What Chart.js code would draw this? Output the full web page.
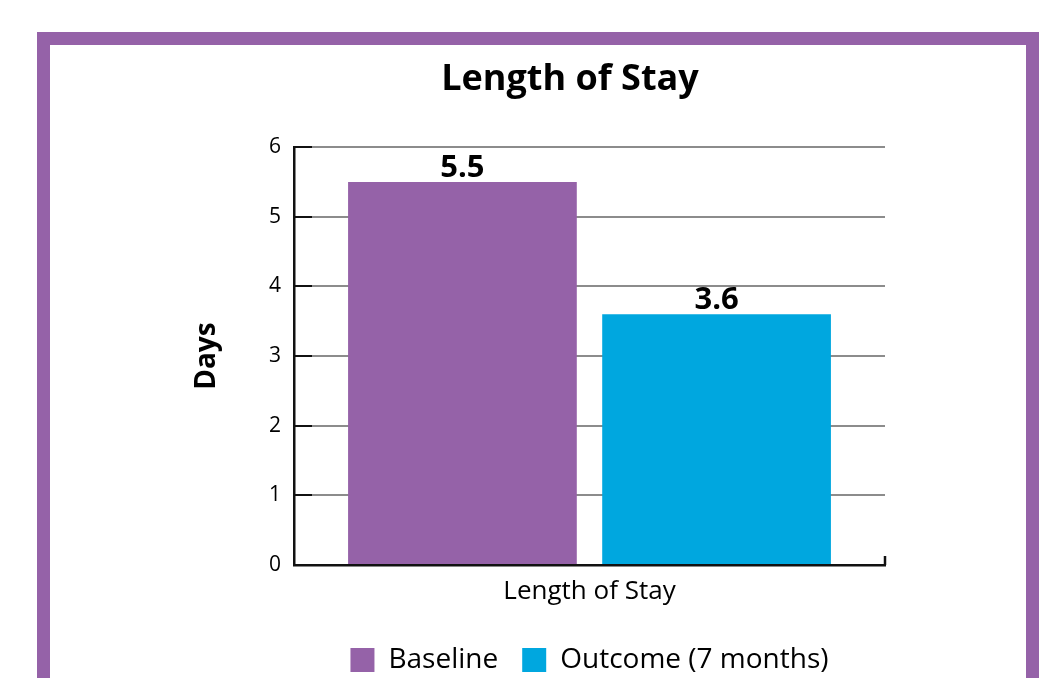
<!DOCTYPE html>
<html>
<head>
<meta charset="utf-8">
<script src="https://cdn.jsdelivr.net/npm/chart.js@4.4.1/dist/chart.umd.min.js"></script>
<style>
  html, body { margin: 0; padding: 0; background: #ffffff; overflow: hidden; }
  #frame {
    position: absolute; left: 37px; top: 32px;
    width: 976px; height: 720px;
    border: 13px solid #9562a8; border-bottom: none;
  }
  #wrap { position: absolute; left: 0; top: 0; width: 1060px; height: 684px; }
</style>
</head>
<body>
<div id="frame"></div>
<div id="wrap"><canvas id="chart" width="1060" height="684"></canvas></div>
<script>
// Chart data
const categories = ['Length of Stay'];
const seriesNames = ['Baseline', 'Outcome (7 months)'];
const baselineDays = [5.5];
const outcomeDays = [3.6];
const yTickValues = [0, 1, 2, 3, 4, 5, 6];

const PURPLE = '#9562a8';
const BLUE = '#00a7df';
const FONT = "'Open Sans', 'Noto Sans', sans-serif";

// Short black tick marks on the inner side of the axes, and value labels above bars
const axisMarks = {
  id: 'axisMarks',
  afterDatasetsDraw(chart) {
    const { ctx, chartArea, scales: { x, y } } = chart;
    ctx.save();
    ctx.strokeStyle = '#111111';
    ctx.lineWidth = 2;
    y.ticks.forEach(t => {
      if (t.value === y.min) return;
      const py = Math.round(y.getPixelForValue(t.value));
      ctx.beginPath();
      ctx.moveTo(chartArea.left, py);
      ctx.lineTo(chartArea.left + 18, py);
      ctx.stroke();
    });
    ctx.lineWidth = 2.5;
    ctx.beginPath();
    ctx.moveTo(chartArea.right, chartArea.bottom);
    ctx.lineTo(chartArea.right, chartArea.bottom - 9);
    ctx.stroke();

    ctx.fillStyle = '#000000';
    ctx.font = `700 31px ${FONT}`;
    ctx.textAlign = 'center';
    ctx.textBaseline = 'alphabetic';
    chart.data.datasets.forEach((ds, di) => {
      chart.getDatasetMeta(di).data.forEach((bar, i) => {
        ctx.fillText(ds.data[i].toFixed(1), bar.x, bar.y - 5);
      });
    });
    ctx.restore();
  }
};

new Chart(document.getElementById('chart'), {
  type: 'bar',
  data: {
    labels: categories,
    datasets: [
      { label: seriesNames[0], data: baselineDays, backgroundColor: PURPLE, yAxisID: 'y' },
      { label: seriesNames[1], data: outcomeDays, backgroundColor: BLUE, yAxisID: 'y' }
    ]
  },
  options: {
    responsive: false,
    animation: false,
    devicePixelRatio: 1,
    categoryPercentage: 0.86,
    barPercentage: 0.9,
    layout: { padding: { top: 0, left: 170, right: 90, bottom: 0 } },
    scales: {
      x: {
        type: 'category',
        z: 1,
        grid: { display: false, drawTicks: false },
        border: { display: true, color: '#111111', width: 2.5 },
        ticks: { color: '#000000', padding: 11, font: { family: FONT, size: 26 } },
        afterFit(scale) { scale.height = 57; }
      },
      y: {
        type: 'linear',
        position: 'left',
        min: 0,
        max: 6,
        afterBuildTicks(scale) { scale.ticks = yTickValues.map(v => ({ value: v })); },
        grid: { color: '#8c8c8c', lineWidth: 2, drawTicks: false },
        border: { display: true, color: '#111111', width: 2.5 },
        ticks: { color: '#000000', padding: 13, font: { family: FONT, size: 21 } },
        title: {
          display: true,
          text: 'Days',
          color: '#000000',
          font: { family: FONT, size: 28, weight: '700' },
          padding: { top: 20, bottom: 0 }
        },
        afterFit(scale) { scale.width = 124; }
      },
      yRight: {
        type: 'linear',
        position: 'right',
        display: true,
        grid: { display: false, drawTicks: false },
        border: { display: false },
        ticks: { display: false },
        afterFit(scale) { scale.width = 85; }
      }
    },
    plugins: {
      title: {
        display: true,
        text: 'Length of Stay',
        color: '#000000',
        font: { family: FONT, size: 36, weight: '700' },
        padding: { top: 58, bottom: 46 }
      },
      legend: {
        position: 'bottom',
        fullSize: false,
        labels: {
          color: '#000000',
          boxWidth: 24,
          boxHeight: 24,
          padding: 24,
          font: { family: FONT, size: 28 }
        }
      },
      tooltip: { enabled: false }
    }
  },
  plugins: [axisMarks]
});
</script>
</body>
</html>
